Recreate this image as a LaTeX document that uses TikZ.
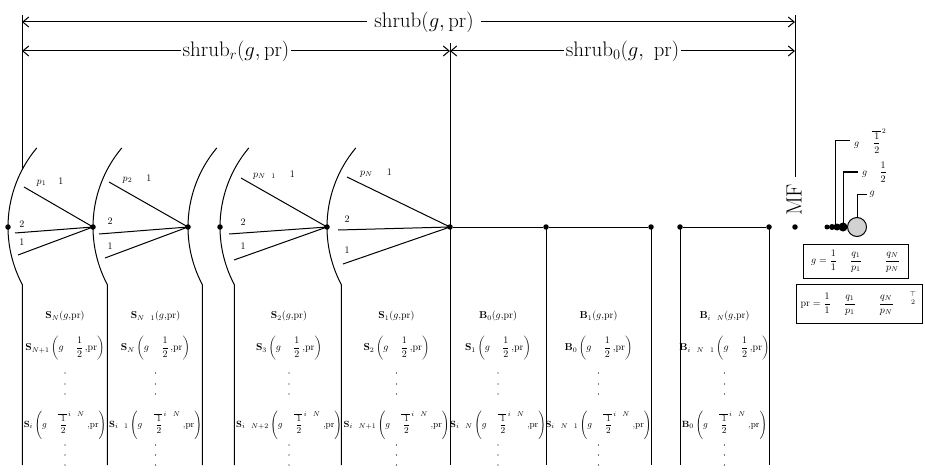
\documentclass[tikz,border=0pt]{standalone}
\usepackage{amsmath, amssymb}
\usepackage{tikz}
\usetikzlibrary{arrows.meta, positioning}

\newcommand{\nominus}{\mathbin{\phantom{-}}}
\newcommand{\baserow}[2]{$\mathbf{#1}_{#2}(g,\!\mathrm{pr})$}
\newcommand{\halfrow}[2]{$\mathbf{#1}_{#2}\left(g\nominus\dfrac{1}{2}\,,\!\mathrm{pr}\right)$}
\newcommand{\powrow}[2]{$\mathbf{#1}_{#2}\left(g\nominus\overline{\,\dfrac{1}{2}}^{\,i\nominus N}\;,\!\mathrm{pr}\right)$}

\tikzset{
  dot/.style={circle, fill=black, inner sep=0pt, minimum size=5.5pt},
  lbl/.style={font=\fontsize{10}{12}\selectfont, inner sep=0pt},
  cell/.style={font=\fontsize{10}{12}\selectfont, inner sep=0pt},
  vdot/.style={circle, fill=black, inner sep=0pt, minimum size=1.4pt},
  dimtxt/.style={fill=white, font=\fontsize{21}{24}\selectfont, inner ysep=1pt, inner xsep=2pt},
  frm/.style={draw, font=\fontsize{10}{12}\selectfont, inner sep=0pt}
}

\begin{document}
\begin{tikzpicture}[x=1pt, y=-1pt, >={Straight Barb[length=6pt,width=10pt]}, line width=1pt]
    \useasboundingbox (0,0) rectangle (925,473);

    % Các mũi tên kích thước
    \coordinate (L0) at (22,15);
    \coordinate (R0) at (795,15);
    \coordinate (M0) at (450,43);
    \draw (L0) -- (22,170);
    \draw (R0) -- (795,177);
    \draw (M0) -- (450,465);
    \draw[<->] (22,22) -- (795,22) node[dimtxt, pos=0.52, inner xsep=7pt] (shrub) {shrub$(g,\mathrm{pr})$};
    \draw[<->] (22,51) -- (450,51) node[dimtxt, midway] (shrubr) {shrub$_r(g,\mathrm{pr})$};
    \draw[<->] (450,51) -- (795,51) node[dimtxt, midway] (shrubz) {shrub$_0(g,\ \mathrm{pr})$};

    % Các cung tròn
    \foreach \d in {8,93,188,220,327} {
        \draw (\d,227) arc[start angle=180, end angle=220, radius=123];
        \draw (\d,227) arc[start angle=180, end angle=152, radius=123] -- ++(0,180.3);
    }

    % Các điểm trên trục ngang
    \foreach \d/\n in {8/a1, 93/a2, 188/a3, 220/a4, 327/a5, 450/b0, 546/b1, 651/b2, 680/b3, 769/b4, 795/mf}
        \node[dot] (\n) at (\d,227) {};
    \draw (b0) -- (b1) -- (b2);
    \draw (b3) -- (b4);
    \foreach \n in {b1,b2,b3,b4}
        \draw (\n.center) -- ++(0,238);

    % Các quạt
    \foreach \tx/\ty/\mx/\my/\bx/\by/\t in {24/187/15/233/18/255/a2, 109/182/99/234/105/258/a3,
                                            241/178/229/234/234/260/a5, 347/177/338/230/343/264/b0}
        \draw (\tx,\ty) -- (\t.center) -- (\bx,\by) (\mx,\my) -- (\t.center);

    \node[lbl] (p1) at (50,182) {$p_1$\hspace{12pt}$1$};
    \node[lbl] (p2) at (137,179) {$p_2$\hspace{14pt}$1$};
    \node[lbl] (pn1) at (274,175) {$p_{N\nominus 1}$\hspace{14pt}$1$};
    \node[lbl] (pn) at (376,173) {$p_N$\hspace{14pt}$1$};
    \foreach \x/\ya/\yb [count=\k] in {22/224/242, 110/221/246, 243/222/246, 347/219/250} {
        \node[lbl] (two\k) at (\x,\ya) {2};
        \node[lbl] (one\k) at (\x,\yb) {1};
    }

    % Các cột công thức
    \foreach \cx/\la/\sa/\lb/\sb/\lc/\sc [count=\k] in {
            65/S/N/S/{N+1}/S/i,
            155.5/S/{N\nominus 1}/S/N/S/{i\nominus 1},
            289/S/2/S/3/S/{i\nominus N+2},
            396.5/S/1/S/2/S/{i\nominus N+1},
            498/B/0/S/1/S/{i\nominus N},
            598.5/B/1/B/0/S/{i\nominus N\nominus 1},
            724.5/B/{i\nominus N}/B/{i\nominus N\nominus 1}/B/0} {
        \node[cell] (top\k) at (\cx,316) {\baserow{\la}{\sa}};
        \node[cell] (mid\k) at (\cx,348) {\halfrow{\lb}{\sb}};
        \node[cell, font=\fontsize{9.5}{11}\selectfont] (low\k) at (\cx,425) {\powrow{\lc}{\sc}};
        \foreach \y in {373,384,394,445,455,465}
            \node[vdot] at (\cx,\y) {};
    }

    % Phần bên phải
    \node[rotate=90, font=\fontsize{22}{24}\selectfont, inner sep=0pt] (mftxt) at (794,200) {MF};
    \node[dot, minimum size=5pt] (c1) at (827,227) {};
    \node[dot, minimum size=6pt] (c2) at (832,227) {};
    \node[dot, minimum size=7pt] (c3) at (837,227) {};
    \node[dot, minimum size=9pt] (c4) at (843,227) {};
    \node[circle, draw, fill=gray!35, minimum size=19pt, inner sep=0pt] (c5) at (857,227) {};

    \node[lbl, anchor=west, inner sep=2pt] (g0) at (867,194) {$g$};
    \node[lbl, anchor=west, inner sep=2pt] (g1) at (858,172) {$\,g\nominus\dfrac{1}{2}$};
    \node[lbl, anchor=west, inner sep=2pt] (g2) at (850,141) {$\,g\nominus\overline{\,\dfrac{1}{2}}^{\,2}$};
    \draw (c5.north) |- (g0.west);
    \draw (c4.center) |- (g1.west);
    \draw ([xshift=-2pt]c3.center) |- (g2.west);

    \node[frm, minimum width=105pt, minimum height=34pt] (gbox) at (855.5,261)
        {$g=\dfrac{1}{1}\hspace{13pt}\dfrac{q_1}{p_1}\hspace{23pt}\dfrac{q_N}{p_N}$};
    \node[frm, minimum width=126pt, minimum height=39pt] (prbox) at (859,303.5)
        {$\mathrm{pr}=\dfrac{1}{1}\hspace{13pt}\dfrac{q_1}{p_1}\hspace{23pt}\dfrac{q_N}{p_N}\hspace{15pt}\raisebox{5pt}{$\genfrac{}{}{0pt}{1}{\top}{2}$}$};

\end{tikzpicture}
\end{document}
